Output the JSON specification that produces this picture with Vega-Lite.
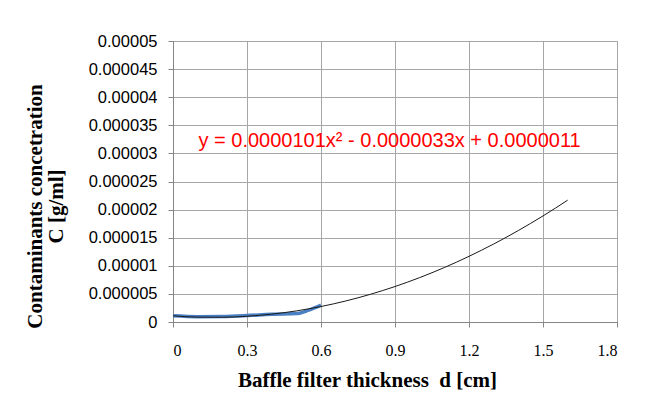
{
  "$schema": "https://vega.github.io/schema/vega-lite/v6.json",
  "width": 444,
  "height": 281,
  "autosize": "none",
  "padding": {"left": 173, "top": 41, "right": 29, "bottom": 81},
  "background": "white",
  "config": {
    "view": {"stroke": "#a6a6a6", "strokeWidth": 1},
    "axis": {
      "gridColor": "#a6a6a6",
      "gridWidth": 1,
      "domainColor": "#868686",
      "tickColor": "#868686",
      "tickSize": 5,
      "labelColor": "#000000",
      "titleColor": "#000000"
    }
  },
  "datasets": {
    "measured": [
      {"d": 0, "C": 0.0000011},
      {"d": 0.1, "C": 0.00000095},
      {"d": 0.2, "C": 0.00000098},
      {"d": 0.3, "C": 0.00000115},
      {"d": 0.4, "C": 0.0000014},
      {"d": 0.5, "C": 0.0000015},
      {"d": 0.55, "C": 0.0000021},
      {"d": 0.6, "C": 0.000003}
    ],
    "trend": [
      {"d": 0, "C": 0.0000011},
      {"d": 0.1, "C": 0.000000871},
      {"d": 0.2, "C": 0.000000844},
      {"d": 0.3, "C": 0.000001019},
      {"d": 0.4, "C": 0.000001396},
      {"d": 0.5, "C": 0.000001975},
      {"d": 0.6, "C": 0.000002756},
      {"d": 0.7, "C": 0.000003739},
      {"d": 0.8, "C": 0.000004924},
      {"d": 0.9, "C": 0.000006311},
      {"d": 1.0, "C": 0.0000079},
      {"d": 1.1, "C": 0.000009691},
      {"d": 1.2, "C": 0.000011684},
      {"d": 1.3, "C": 0.000013879},
      {"d": 1.4, "C": 0.000016276},
      {"d": 1.5, "C": 0.000018875},
      {"d": 1.6, "C": 0.000021676}
    ],
    "equation": [
      {"d": 0.878, "C": 0.0000322, "label": "y = 0.0000101x² - 0.0000033x + 0.0000011"}
    ]
  },
  "encoding": {
    "x": {
      "field": "d",
      "type": "quantitative",
      "scale": {"domain": [0, 1.8], "nice": false, "zero": false},
      "axis": {
        "values": [0, 0.3, 0.6, 0.9, 1.2, 1.5, 1.8],
        "format": ".1~f",
        "labelFont": "Liberation Serif",
        "labelFontSize": 16,
        "labelPadding": 15,
        "grid": true,
        "title": "Baffle filter thickness\u00a0 d [cm]",
        "titleFont": "Liberation Serif",
        "titleFontSize": 21,
        "titleFontWeight": "bold",
        "titleX": 194,
        "titleY": 47,
        "titleAlign": "center",
        "titleBaseline": "top"
      }
    },
    "y": {
      "field": "C",
      "type": "quantitative",
      "scale": {"domain": [0, 0.00005], "nice": false, "zero": true},
      "axis": {
        "values": [0, 0.000005, 0.00001, 0.000015, 0.00002, 0.000025, 0.00003, 0.000035, 0.00004, 0.000045, 0.00005],
        "labelExpr": "format(datum.value, '.6~f')",
        "labelFont": "Liberation Sans",
        "labelFontSize": 16.5,
        "labelPadding": 11,
        "grid": true,
        "title": ["Contaminants concetration", "C [g/ml]"],
        "titleFont": "Liberation Serif",
        "titleFontSize": 21,
        "titleFontWeight": "bold",
        "titleLineHeight": 21,
        "titleAngle": -90,
        "titleX": -149,
        "titleY": 165,
        "titleAlign": "center",
        "titleBaseline": "top"
      }
    }
  },
  "layer": [
    {
      "data": {"name": "measured"},
      "mark": {"type": "line", "color": "#4a7fc1", "strokeWidth": 3.5, "interpolate": "monotone"}
    },
    {
      "data": {"name": "trend"},
      "mark": {"type": "line", "color": "#1a1a1a", "strokeWidth": 1, "interpolate": "monotone"}
    },
    {
      "data": {"name": "equation"},
      "mark": {"type": "text", "color": "#ff0000", "font": "Liberation Sans", "fontSize": 20, "align": "center", "baseline": "middle"},
      "encoding": {"text": {"field": "label"}}
    }
  ]
}
